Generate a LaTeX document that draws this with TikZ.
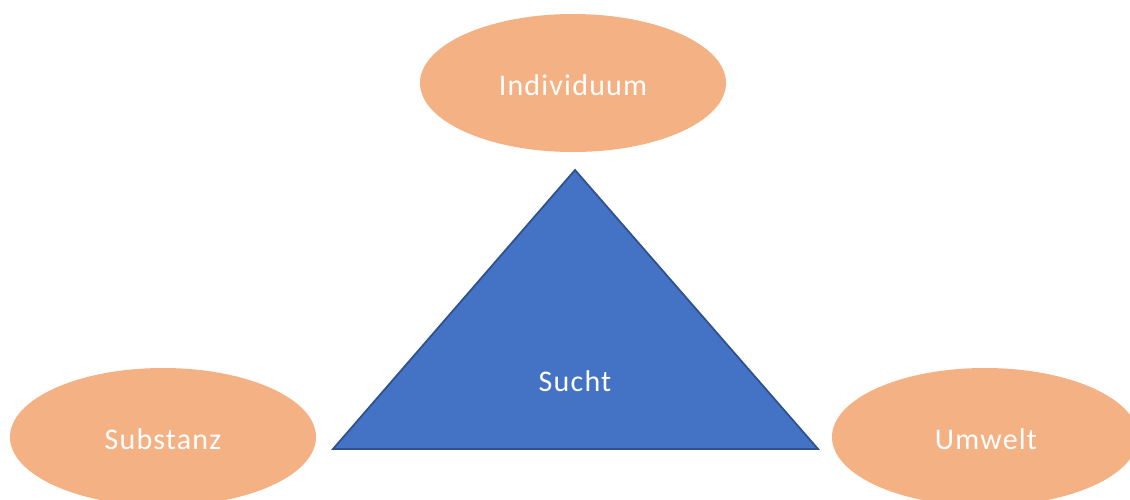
\documentclass[tikz,border=0pt]{standalone}
\usepackage{fontspec}
\setmainfont{Carlito}
\definecolor{orangefill}{HTML}{F4B183}
\definecolor{bluefill}{HTML}{4472C4}
\definecolor{blueline}{HTML}{2F528F}
\definecolor{txt}{HTML}{FFFFFF}
\begin{document}
\begin{tikzpicture}[x=1pt,y=-1pt,
  lbl/.style={text=txt, font=\fontsize{30}{34}\selectfont\addfontfeature{LetterSpace=4}}]
\useasboundingbox (0,0) rectangle (1130,499);
\clip (0,0) rectangle (1130,499);
\fill[orangefill] (573,83) ellipse [x radius=153, y radius=69];
\fill[orangefill] (163,437) ellipse [x radius=153, y radius=69];
\fill[orangefill] (985,437) ellipse [x radius=153, y radius=69];
\coordinate (apex) at (575,170);
\coordinate (bl) at (333,449);
\coordinate (br) at (818,449);
\draw[fill=bluefill, draw=blueline, line width=1.8pt, line join=miter] (apex) -- (br) -- (bl) -- cycle;
\node[lbl] (ind) at (573,85) {Individuum};
\node[lbl] (sub) at (163,439) {Substanz};
\node[lbl] (umw) at (986,439) {Umwelt};
\node[lbl] (sucht) at (575,381) {Sucht};
\end{tikzpicture}
\end{document}
